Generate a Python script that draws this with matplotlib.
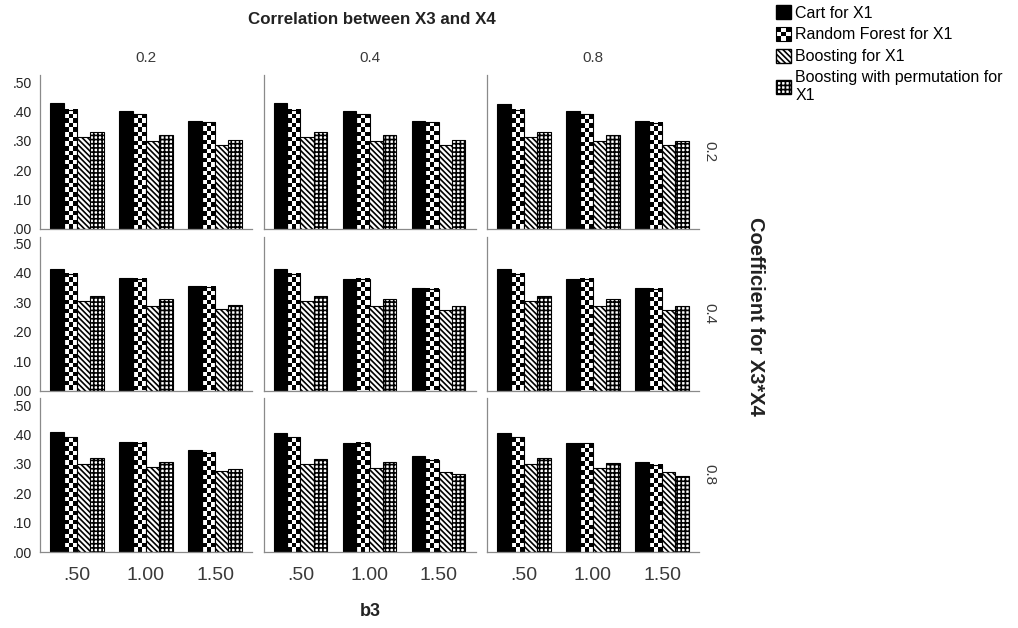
import numpy as np
import matplotlib
matplotlib.use("Agg")
import matplotlib.pyplot as plt
from matplotlib.patches import Patch, Rectangle
from matplotlib.legend_handler import HandlerBase

plt.rcParams['font.family'] = ['Liberation Sans', 'DejaVu Sans']
plt.rcParams['hatch.linewidth'] = 1.2

corr_levels = ["0.2", "0.4", "0.8"]      # columns: correlation between X3 and X4
coef_levels = ["0.2", "0.4", "0.8"]      # rows: coefficient for X3*X4
b3_labels = [".50", "1.00", "1.50"]
methods = ["Cart for X1", "Random Forest for X1", "Boosting for X1",
           "Boosting with permutation for\nX1"]

# indexed [coefficient row][correlation column][b3]
cart = [
    [[.428, .401, .368], [.428, .401, .367], [.427, .400, .366]],
    [[.414, .382, .357], [.413, .381, .350], [.412, .380, .350]],
    [[.407, .375, .346], [.405, .372, .325], [.404, .372, .307]],
]
rf = [
    [[.405, .391, .364], [.405, .391, .363], [.405, .390, .362]],
    [[.396, .380, .351], [.395, .380, .347], [.396, .379, .347]],
    [[.390, .372, .338], [.390, .371, .314], [.390, .370, .297]],
]
boost = [
    [[.312, .300, .287], [.312, .300, .286], [.312, .300, .286]],
    [[.304, .289, .277], [.304, .288, .274], [.303, .287, .274]],
    [[.301, .288, .277], [.300, .287, .273], [.300, .287, .273]],
]
boost_perm = [
    [[.330, .320, .303], [.330, .320, .302], [.330, .320, .301]],
    [[.321, .311, .291], [.320, .310, .287], [.320, .310, .287]],
    [[.320, .306, .281], [.318, .305, .267], [.319, .304, .259]],
]

W, H = 1018, 628
SPINE = '#8a8a8a'
TXT = '#3a3a3a'
DIAG = '\\' * 6
GRID = '++++'


def checker_fill(ax, bar, cell=4.5):
    # black/white checkerboard clipped to one bar
    x0, w, h = bar.get_x(), bar.get_width(), bar.get_height()
    p0 = ax.transData.transform((x0, 0))
    p1 = ax.transData.transform((x0 + w, h))
    nx = max(1, int(round((p1[0] - p0[0]) / cell)))
    ny = max(1, int(round((p1[1] - p0[1]) / cell)))
    grid = np.add.outer(np.arange(ny), np.arange(nx)) % 2
    ax.imshow(grid, cmap='gray', vmin=0, vmax=1, extent=(x0, x0 + w, 0, h),
              origin='upper', interpolation='nearest', aspect='auto', zorder=1.5)


class CheckerHandler(HandlerBase):
    def create_artists(self, legend, orig_handle, xdescent, ydescent,
                       width, height, fontsize, trans):
        arts = [Rectangle((-xdescent, -ydescent), width, height,
                          facecolor='white', edgecolor='none', transform=trans)]
        n = 3
        cw, ch = width / n, height / n
        for i in range(n):
            for j in range(n):
                if (i + j) % 2 == 0:
                    arts.append(Rectangle((-xdescent + i * cw, -ydescent + j * ch), cw, ch,
                                          facecolor='black', edgecolor='none',
                                          transform=trans))
        arts.append(Rectangle((-xdescent, -ydescent), width, height,
                              facecolor='none', edgecolor='black', lw=0.8,
                              transform=trans))
        return arts


def main():
    fig = plt.figure(figsize=(W / 100, H / 100), dpi=100)
    x = np.arange(len(b3_labels))
    bw = 0.195
    offsets = (np.arange(4) - 1.5) * bw
    ylim = 0.524

    for r in range(3):
        for c in range(3):
            left = 40 + c * 223.5
            top = 75 + r * 161.5
            ax = fig.add_axes([left / W, 1 - (top + 154) / H, 212 / W, 154 / H])
            ax.set_xlim(-0.536, 2.536)
            ax.set_ylim(0, ylim)

            ax.bar(x + offsets[0], cart[r][c], bw, color='black',
                   edgecolor='black', lw=0.8, zorder=2)
            rf_bars = ax.bar(x + offsets[1], rf[r][c], bw, facecolor='none',
                             edgecolor='black', lw=0.8, zorder=2)
            for b in rf_bars:
                checker_fill(ax, b)
            ax.bar(x + offsets[2], boost[r][c], bw, facecolor='white',
                   edgecolor='black', hatch=DIAG, lw=0.8, zorder=2)
            ax.bar(x + offsets[3], boost_perm[r][c], bw, facecolor='white',
                   edgecolor='black', hatch=GRID, lw=0.8, zorder=2)

            ax.set_xlim(-0.536, 2.536)
            ax.set_ylim(0, ylim)
            for s in ['top', 'right']:
                ax.spines[s].set_visible(False)
            for s in ['left', 'bottom']:
                ax.spines[s].set_color(SPINE)
                ax.spines[s].set_linewidth(0.9)
            ax.tick_params(length=0)

            ax.set_yticks(np.arange(0, 0.51, 0.1))
            if c == 0:
                ax.set_yticklabels(['.00', '.10', '.20', '.30', '.40', '.50'],
                                   fontsize=10, color='#222222')
                ax.tick_params(axis='y', pad=6)
            else:
                ax.set_yticklabels([])

            ax.set_xticks(x)
            if r == 2:
                ax.set_xticklabels(b3_labels, fontsize=14, color=TXT)
                ax.tick_params(axis='x', pad=11)
            else:
                ax.set_xticklabels([])

            if r == 0:
                ax.set_title(corr_levels[c], fontsize=11, color=TXT, pad=9)
            if c == 2:
                ax.text(1.05, 0.5, coef_levels[r], transform=ax.transAxes,
                        rotation=-90, va='center', ha='center', fontsize=11,
                        color=TXT)

    fig.text(372 / W, 1 - 20 / H, "Correlation between X3 and X4", ha='center',
             va='center', fontsize=12.2, fontweight='bold', color='#222222')
    fig.text(370 / W, 1 - 612 / H, "b3", ha='center', va='center',
             fontsize=13, fontweight='bold', color='#222222')
    fig.text(756 / W, 1 - 316 / H, "Coefficient for X3*X4", ha='center',
             va='center', rotation=-90, fontsize=14.5, fontweight='bold',
             color='#222222')

    handles = [Patch(facecolor='black', edgecolor='black'),
               Patch(facecolor='white', edgecolor='black'),
               Patch(facecolor='white', edgecolor='black', hatch=DIAG),
               Patch(facecolor='white', edgecolor='black', hatch=GRID)]
    fig.legend(handles, methods, loc='upper left',
               bbox_to_anchor=(773 / W, 1 - 2 / H), frameon=False,
               fontsize=11.5, handlelength=0.95, handleheight=0.95,
               handletextpad=0.25, labelspacing=0.4, borderaxespad=0,
               borderpad=0.2,
               handler_map={handles[1]: CheckerHandler()})

    fig.savefig("out.png", dpi=100)


if __name__ == "__main__":
    main()
